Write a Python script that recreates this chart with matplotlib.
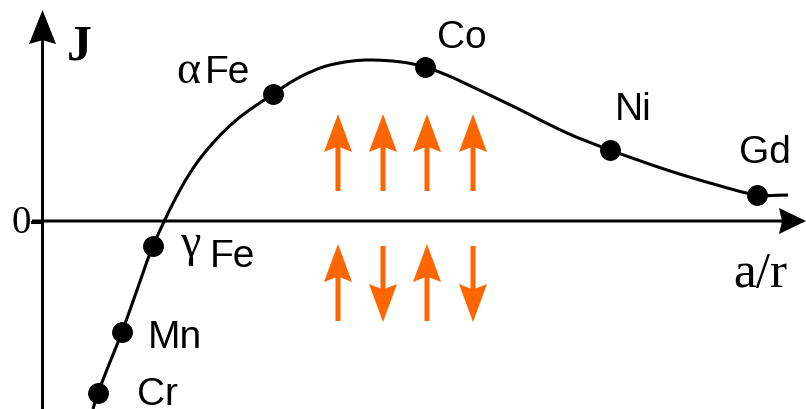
import matplotlib
matplotlib.use("Agg")
import matplotlib.pyplot as plt
import numpy as np
from matplotlib.path import Path
from matplotlib.patches import PathPatch, FancyArrow

# Bethe-Slater curve: exchange integral J versus a/r (arbitrary units)
elements = ["Cr", "Mn", "\u03b3Fe", "\u03b1Fe", "Co", "Ni", "Gd"]
elem_ar = [0.56, 0.80, 1.11, 2.31, 3.83, 5.68, 7.15]
elem_J = [-1.72, -1.11, -0.25, 1.27, 1.54, 0.71, 0.26]

# points along the curve
curve_ar = [0.51, 0.56, 0.68, 0.80, 0.95, 1.11, 1.38, 1.60, 1.92, 2.31,
            2.58, 2.88, 3.30, 3.83, 4.58, 5.25, 5.68, 6.25, 6.75, 7.15, 7.46]
curve_J = [-1.88, -1.72, -1.41, -1.11, -0.69, -0.25, 0.31, 0.65, 0.99, 1.27,
           1.44, 1.56, 1.61, 1.54, 1.21, 0.88, 0.71, 0.51, 0.36, 0.26, 0.26]

ORANGE = "#FF6600"
SANS = "Liberation Sans"
SERIF = "Liberation Serif"

fig = plt.figure(figsize=(8.06, 4.09), dpi=100)
ax = fig.add_axes([0, 0, 1, 1])
ax.set_xlim(-0.42, 7.64)
ax.set_ylim(-1.88, 2.21)
ax.axis("off")


def smooth_path(xs, ys):
    """Smooth cubic Bezier path through the points (chord-scaled tangents)."""
    pts = np.column_stack([xs, ys]).astype(float)
    n = len(pts)
    tang = np.zeros_like(pts)
    for i in range(n):
        a = pts[max(i - 1, 0)]
        b = pts[min(i + 1, n - 1)]
        d = b - a
        tang[i] = d / np.hypot(*d)
    verts = [tuple(pts[0])]
    codes = [Path.MOVETO]
    for i in range(n - 1):
        seg = np.hypot(*(pts[i + 1] - pts[i]))
        c1 = pts[i] + tang[i] * seg / 3.0
        c2 = pts[i + 1] - tang[i + 1] * seg / 3.0
        verts += [tuple(c1), tuple(c2), tuple(pts[i + 1])]
        codes += [Path.CURVE4] * 3
    return Path(verts, codes)


# axes with arrow heads
lw_axis = 2.2
ax.add_patch(FancyArrow(-0.10, 0.0, 7.74, 0.0, width=0.03, head_width=0.26,
                        head_length=0.27, length_includes_head=True,
                        color="black", lw=0, overhang=0.1, zorder=2))
ax.add_patch(FancyArrow(0.005, -1.90, 0.0, 4.01, width=0.03, head_width=0.27,
                        head_length=0.34, length_includes_head=True,
                        color="black", lw=0, overhang=0.1, zorder=2))

# curve and element markers
ax.add_patch(PathPatch(smooth_path(curve_ar, curve_J), fill=False,
                       lw=2.2, edgecolor="black", capstyle="butt", zorder=3))
ax.plot(elem_ar, elem_J, "o", color="black", markersize=14, zorder=4)

# labels
lab_size = 28
greek_size = 33
ax.text(1.06, -1.27, "Mn", fontsize=lab_size, family=SANS, ha="left", va="baseline")
ax.text(0.95, -1.84, "Cr", fontsize=lab_size, family=SANS, ha="left", va="baseline")
ax.text(3.95, 1.73, "Co", fontsize=lab_size, family=SANS, ha="left", va="baseline")
ax.text(5.73, 1.01, "Ni", fontsize=lab_size, family=SANS, ha="left", va="baseline")
ax.text(6.97, 0.58, "Gd", fontsize=lab_size, family=SANS, ha="left", va="baseline")
ax.text(1.34, 1.38, "\u03b1", fontsize=greek_size, family=SERIF, ha="left", va="baseline")
ax.text(1.63, 1.38, "Fe", fontsize=lab_size, family=SANS, ha="left", va="baseline")
ax.text(1.38, -0.35, "\u03b3", fontsize=greek_size, family=SERIF, ha="left", va="baseline")
ax.text(1.68, -0.46, "Fe", fontsize=lab_size, family=SANS, ha="left", va="baseline")

# axis titles and zero tick
ax.text(0.25, 1.61, "J", fontsize=36, family=SERIF, weight="bold",
        ha="left", va="baseline")
ax.text(6.91, -0.66, "a/r", fontsize=37, family=SERIF,
        ha="left", va="baseline")
ax.text(-0.30, -0.12, "0", fontsize=28, family=SERIF, ha="left", va="baseline")
ax.plot([-0.10, 0.0], [-0.01, -0.01], color="black", lw=lw_axis, zorder=2)

# spin arrangement sketches: parallel (ferro) above, antiparallel below
spin_x = [2.96, 3.41, 3.85, 4.31]
arrow_kw = dict(width=0.05, head_width=0.28, head_length=0.38,
                length_includes_head=True, color=ORANGE, lw=0, overhang=0.12,
                zorder=3)
for x in spin_x:
    ax.add_patch(FancyArrow(x, 0.30, 0.0, 0.77, **arrow_kw))
for k, x in enumerate(spin_x):
    if k % 2 == 0:
        ax.add_patch(FancyArrow(x, -1.00, 0.0, 0.77, **arrow_kw))
    else:
        ax.add_patch(FancyArrow(x, -0.25, 0.0, -0.76, **arrow_kw))

fig.savefig("out.png", dpi=100)
